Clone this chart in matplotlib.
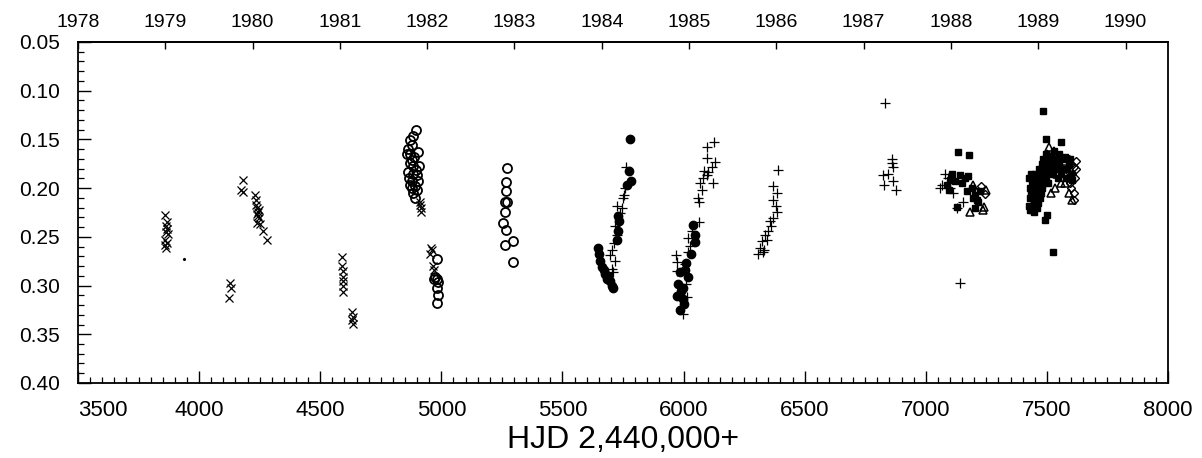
import numpy as np
import matplotlib.pyplot as plt
from matplotlib.ticker import MultipleLocator, FixedLocator

plt.rcParams['font.family'] = ['Liberation Sans', 'DejaVu Sans']

# crosses (x)
cross_hjd = [3860, 3866, 3862, 3868, 3864, 3870, 3861, 3866, 3858, 3863,
             4127, 4130, 4125,
             4181, 4173, 4181, 4231, 4233, 4236, 4239, 4244, 4240, 4248, 4238,
             4253, 4264, 4279, 4242, 4246,
             4589, 4590, 4592, 4593, 4595, 4593, 4595, 4631, 4634, 4631, 4636,
             4912, 4916, 4910, 4918,
             4956, 4960, 4953, 4967, 4970]
cross_mag = [0.228, 0.235, 0.239, 0.242, 0.245, 0.247, 0.253, 0.256, 0.258, 0.261,
             0.297, 0.302, 0.313,
             0.192, 0.202, 0.204, 0.207, 0.212, 0.217, 0.220, 0.224, 0.227, 0.231, 0.236,
             0.237, 0.244, 0.253, 0.229, 0.222,
             0.271, 0.280, 0.285, 0.291, 0.295, 0.300, 0.307, 0.327, 0.332, 0.335, 0.339,
             0.214, 0.220, 0.217, 0.224,
             0.261, 0.264, 0.268, 0.280, 0.284]

# single small dot
dot_hjd = [3939]
dot_mag = [0.273]

# open circles
ocirc_hjd = [4895, 4884, 4870, 4877, 4863, 4870, 4905, 4857, 4877, 4884, 4909, 4863,
             4884, 4898, 4877, 4905, 4870, 4891, 4901, 4882, 4891, 4872, 4888, 4866,
             4894, 4880,
             4983, 4974, 4983, 4987, 4970, 4983, 4987, 4983,
             5270, 5267, 5267, 5263, 5270, 5263, 5256, 5267, 5263, 5297, 5297]
ocirc_mag = [0.140, 0.147, 0.151, 0.156, 0.160, 0.165, 0.163, 0.165, 0.171, 0.177, 0.177, 0.183,
             0.185, 0.187, 0.193, 0.193, 0.197, 0.198, 0.202, 0.205, 0.210, 0.174, 0.168, 0.190,
             0.181, 0.200,
             0.273, 0.291, 0.293, 0.296, 0.293, 0.302, 0.310, 0.318,
             0.179, 0.194, 0.203, 0.214, 0.214, 0.225, 0.236, 0.243, 0.258, 0.254, 0.276]

# filled circles
fcirc_hjd = [5779, 5776, 5782, 5765, 5730, 5735, 5730, 5726, 5648, 5652, 5655, 5662,
             5675, 5682, 5696, 5703, 5707, 5672, 5690,
             6040, 6047, 6047, 6029, 6006, 6017, 5985, 5978, 5999, 5974, 5996, 5985, 6002,
             5990, 6010]
fcirc_mag = [0.150, 0.182, 0.193, 0.197, 0.229, 0.234, 0.244, 0.253, 0.261, 0.268, 0.275, 0.281,
             0.288, 0.293, 0.295, 0.300, 0.302, 0.284, 0.290,
             0.238, 0.248, 0.255, 0.268, 0.284, 0.291, 0.286, 0.298, 0.302, 0.311, 0.314, 0.325, 0.319,
             0.306, 0.277]

# pluses
plus_hjd = [5762, 5758, 5754, 5751, 5726, 5744, 5737, 5717, 5724, 5713, 5703, 5696, 5717, 5703, 5710,
            6065, 6033, 6019, 6026, 6019, 5969, 5971, 5974, 6006, 6010, 6013, 5999,
            6125, 6095, 6095, 6130, 6116, 6084, 6102, 6095, 6079, 6123, 6068, 6075, 6061, 6065,
            6391, 6370, 6384, 6370, 6381, 6384, 6370, 6357, 6363, 6350, 6336, 6343, 6322, 6315,
            6332, 6308, 6329,
            6832, 6859, 6859, 6866, 6845, 6822, 6863, 6827, 6877,
            7079, 7069, 7100, 7155, 7127, 7113, 7141, 7090, 7060]
plus_mag = [0.178, 0.200, 0.207, 0.210, 0.218, 0.220, 0.226, 0.239, 0.248, 0.256, 0.264, 0.269, 0.275, 0.283, 0.286,
            0.235, 0.244, 0.251, 0.259, 0.266, 0.269, 0.276, 0.285, 0.278, 0.298, 0.312, 0.329,
            0.153, 0.158, 0.169, 0.173, 0.178, 0.182, 0.183, 0.187, 0.190, 0.195, 0.195, 0.202, 0.210, 0.214,
            0.181, 0.198, 0.205, 0.212, 0.218, 0.224, 0.231, 0.234, 0.239, 0.244, 0.248, 0.253, 0.254, 0.261,
            0.263, 0.268, 0.266,
            0.113, 0.170, 0.174, 0.178, 0.185, 0.187, 0.193, 0.197, 0.202,
            0.186, 0.197, 0.200, 0.214, 0.220, 0.205, 0.297, 0.190, 0.200]

# filled squares
sq_hjd = [7134, 7179, 7141, 7120, 7100, 7169, 7203, 7223, 7127, 7203, 7217, 7086,
          7110, 7150, 7160, 7190, 7210, 7095, 7175, 7195,
          7485, 7496, 7558, 7524, 7492, 7500, 7430,
          7425, 7430, 7432, 7428, 7440, 7442, 7445, 7448, 7450, 7452, 7455, 7458, 7460,
          7462, 7465, 7468, 7470, 7472, 7475, 7478, 7480, 7483, 7486, 7490, 7495, 7500,
          7505, 7510, 7515, 7520, 7525, 7530, 7540, 7545, 7550, 7560, 7570, 7580, 7590, 7600,
          7436, 7444, 7438, 7456, 7464, 7476, 7488, 7498, 7508, 7518, 7528, 7536, 7548, 7565,
          7575, 7585, 7595, 7605, 7434, 7446, 7466, 7474]
sq_mag = [0.163, 0.166, 0.187, 0.193, 0.192, 0.203, 0.207, 0.203, 0.219, 0.220, 0.214, 0.197,
          0.185, 0.195, 0.190, 0.200, 0.212, 0.202, 0.188, 0.210,
          0.121, 0.150, 0.153, 0.266, 0.233, 0.228, 0.222,
          0.190, 0.200, 0.210, 0.218, 0.195, 0.205, 0.215, 0.225, 0.185, 0.200, 0.210, 0.220, 0.190,
          0.205, 0.215, 0.180, 0.195, 0.210, 0.185, 0.200, 0.175, 0.190, 0.170, 0.185, 0.165, 0.180,
          0.195, 0.172, 0.178, 0.175, 0.185, 0.170, 0.180, 0.190, 0.175, 0.185, 0.180, 0.190, 0.175, 0.185,
          0.185, 0.190, 0.222, 0.197, 0.188, 0.192, 0.178, 0.190, 0.182, 0.168, 0.162, 0.172, 0.165, 0.170,
          0.168, 0.180, 0.170, 0.192, 0.205, 0.212, 0.200, 0.205]

# open triangles
tri_hjd = [7193, 7248, 7240, 7182, 7235,
           7500, 7510, 7520, 7530, 7515, 7535, 7545, 7555, 7570, 7575, 7590, 7605, 7480, 7470,
           7450, 7540, 7560]
tri_mag = [0.197, 0.202, 0.219, 0.225, 0.222,
           0.165, 0.158, 0.170, 0.162, 0.205, 0.200, 0.168, 0.175, 0.172, 0.195, 0.205, 0.212, 0.195, 0.205,
           0.210, 0.185, 0.195]

# open diamonds
dia_hjd = [7228, 7245,
           7580, 7590, 7600, 7605, 7610, 7615, 7600, 7610, 7620, 7595, 7585, 7622, 7612]
dia_mag = [0.198, 0.206,
           0.180, 0.170, 0.175, 0.185, 0.178, 0.190, 0.200, 0.205, 0.180, 0.195, 0.190, 0.172, 0.212]

year_ticks = list(range(1978, 1991))


def hjd_to_year(h):
    return 1978 + (np.asarray(h) - 3500) / 360.4


def year_to_hjd(y):
    return 3500 + (np.asarray(y) - 1978) * 360.4


fig = plt.figure(figsize=(12.02, 4.58), dpi=100)
ax = fig.add_axes([0.0649, 0.1638, 0.9068, 0.7445])

k = dict(color='black', linestyle='none')
ax.plot(cross_hjd, cross_mag, marker='x', ms=6, mew=0.9, **k)
ax.plot(dot_hjd, dot_mag, marker='.', ms=2.5, **k)
ax.plot(ocirc_hjd, ocirc_mag, marker='o', ms=6.5, mfc='none', mew=1.3, **k)
ax.plot(fcirc_hjd, fcirc_mag, marker='o', ms=6, **k)
ax.plot(plus_hjd, plus_mag, marker='+', ms=7, mew=0.9, **k)
ax.plot(sq_hjd, sq_mag, marker='s', ms=4.5, **k)
ax.plot(tri_hjd, tri_mag, marker='^', ms=6, mfc='none', mew=1.1, **k)
ax.plot(dia_hjd, dia_mag, marker='D', ms=4, mfc='none', mew=1.0, **k)

ax.set_xlim(3500, 8000)
ax.set_ylim(0.40, 0.05)
ax.xaxis.set_major_locator(MultipleLocator(500))
ax.xaxis.set_minor_locator(MultipleLocator(50))
# the 3500 label is drawn separately, shifted off the corner
ax.xaxis.set_major_formatter(plt.FuncFormatter(lambda v, p: "" if v < 3600 else f"{v:.0f}"))
ax.yaxis.set_major_locator(MultipleLocator(0.05))
ax.yaxis.set_minor_locator(MultipleLocator(0.01))
ax.yaxis.set_major_formatter(plt.FuncFormatter(lambda v, p: f"{v:.2f}"))
ax.tick_params(axis='both', which='major', direction='in', length=9, width=1.0,
               top=False, right=False)
ax.tick_params(axis='both', which='minor', direction='in', length=4.5, width=0.9,
               top=False, right=False)
ax.tick_params(axis='x', pad=12, labelsize=16)
ax.tick_params(axis='y', pad=13, labelsize=15)
for s in ax.spines.values():
    s.set_linewidth(1.3)

ax.annotate("3500", xy=(3500, 0), xycoords=('data', 'axes fraction'),
            xytext=(0, -12), textcoords='offset points', ha='left', va='top', fontsize=16)

sec = ax.secondary_xaxis('top', functions=(hjd_to_year, year_to_hjd))
sec.xaxis.set_major_locator(FixedLocator(year_ticks))
sec.xaxis.set_major_formatter(plt.FuncFormatter(lambda v, p: f"{int(round(v))}"))
sec.tick_params(direction='in', length=5, width=1.0, labelsize=14, pad=8)
sec.spines['top'].set_linewidth(1.3)

ax.set_xlabel("HJD 2,440,000+", fontsize=23, labelpad=3)

fig.savefig("out.png", dpi=100)
